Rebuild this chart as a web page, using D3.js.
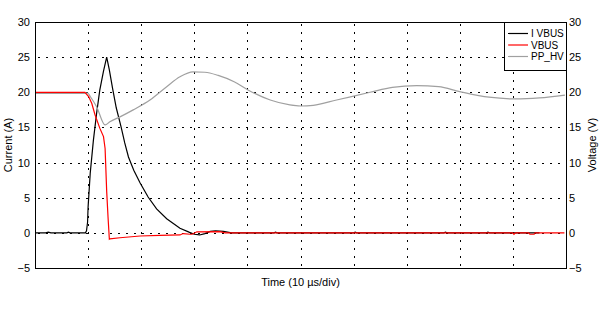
<!DOCTYPE html>
<html lang="en">
<head>
<meta charset="UTF-8">
<title>Current / Voltage</title>
<script src="https://cdn.jsdelivr.net/npm/d3@7"></script>
<style>
  body { margin: 0; padding: 0; background: #fff; overflow: hidden; }
  svg text { font-family: "Liberation Sans", Arial, sans-serif; font-size: 11px; fill: #000; }
  .legend text { font-size: 10px; }
</style>
</head>
<body>
<svg id="chart" width="604" height="320"></svg>
<script>
// time in µs (10 µs/div)
const seriesNames = ["I VBUS", "VBUS", "PP_HV"];
const seriesColors = ["#000000", "#ff0000", "#a0a0a0"];
const yTicks = [-5, 0, 5, 10, 15, 20, 25, 30];

const iVbus = [
  [0, 0], [2, 0], [2.5, 0.1], [3, 0], [6, 0], [6.3, 0.1], [6.6, 0], [9.5, 0],
  [9.7, 0.3], [9.9, 1.5], [10.0, 3.7], [10.4, 8.5], [11.0, 13.2], [11.6, 17],
  [12.2, 20.3], [12.9, 23], [13.5, 25.0], [14.0, 23.2], [14.6, 20.6], [15.3, 17.8],
  [16.2, 15.1], [16.9, 12.8], [17.6, 10.8], [18.6, 8.9], [19.8, 7.1], [21.3, 5.1],
  [22.9, 3.4], [24.8, 2.0], [27.3, 0.65], [29, 0.1], [30, -0.2], [31, -0.3],
  [32, -0.1], [33, 0.2], [34, 0.3], [35.5, 0.2], [37, 0], [45, 0], [45.3, 0.1],
  [45.6, 0], [60, 0], [60.3, 0.1], [60.6, 0], [77, 0], [77.3, 0.1], [77.6, 0],
  [85, 0], [85.3, 0.1], [85.6, 0], [95, 0]
];

const vbus = [
  [0, 20], [9.4, 20], [10.1, 19.4], [10.7, 18.4], [11.3, 16.8], [12.2, 14.9],
  [12.9, 13.7], [13.2, 12.0], [13.3, 10], [13.5, 5.9], [13.75, 2.3], [14.0, -0.9],
  [14.1, -0.85], [16, -0.7], [19.8, -0.45], [23.5, -0.35], [27.3, -0.3], [27.9, -0.1],
  [29.2, -0.2], [29.6, -0.2], [30.5, 0.15], [34.8, 0.17], [35.8, 0], [90, 0],
  [90.2, -0.2], [90.5, 0], [93, 0], [93.2, -0.2], [94, -0.2], [94.2, 0], [99.7, 0]
];

const ppHv = [
  [0, 19.85], [9.2, 19.85], [9.9, 19.9], [10.4, 19.4], [11.6, 17.95], [13.2, 15.35],
  [14.1, 15.8], [16.0, 16.5], [18.5, 17.5], [21.65, 18.9], [24.8, 20.8], [27.3, 22.2],
  [29.75, 22.9], [32, 22.85], [34.5, 22.4], [37.5, 21.5], [40.2, 20.3], [44.3, 18.9],
  [48, 18.2], [50, 18.05], [52.4, 18.15], [56.8, 18.9], [63.1, 20.0], [67.3, 20.7],
  [71.9, 20.95], [76, 20.8], [80, 20.1], [85.5, 19.3], [90.4, 19.05], [95, 19.2],
  [99.8, 19.6]
];

const svg = d3.select("#chart");
const plotLeft = 35, plotRight = 566, plotTop = 22, plotBottom = 268;

const x = d3.scaleLinear().domain([0, 100]).range([plotLeft, plotRight]);
const y = d3.scaleLinear().domain([-5, 30]).range([plotBottom, plotTop]);

// dotted grid
const grid = svg.append("g")
  .attr("stroke", "#000")
  .attr("stroke-dasharray", "2,6")
  .attr("shape-rendering", "crispEdges");

grid.selectAll(".vg")
  .data(d3.range(10, 100, 10))
  .enter().append("line")
  .attr("x1", d => Math.round(x(d)) + 0.5)
  .attr("x2", d => Math.round(x(d)) + 0.5)
  .attr("y1", plotTop + 2)
  .attr("y2", plotBottom);

grid.selectAll(".hg")
  .data(d3.range(0, 30, 5))
  .enter().append("line")
  .attr("x1", plotLeft + 3)
  .attr("x2", plotRight)
  .attr("y1", d => Math.round(y(d)) + 0.5)
  .attr("y2", d => Math.round(y(d)) + 0.5);

// axes (labels only, no tick marks)
const leftAxis = d3.axisLeft(y).tickValues(yTicks).tickSize(0).tickPadding(5);
const rightAxis = d3.axisRight(y).tickValues(yTicks).tickSize(0).tickPadding(3);

svg.append("g")
  .attr("transform", `translate(${plotLeft},0)`)
  .call(leftAxis)
  .call(g => g.select(".domain").remove());

svg.append("g")
  .attr("transform", `translate(${plotRight},0)`)
  .call(rightAxis)
  .call(g => g.select(".domain").remove());

svg.selectAll("g[font-size]").attr("font-size", null).attr("font-family", null);

// traces
const line = d3.line().x(d => x(d[0])).y(d => y(d[1]));
const smooth = d3.line().x(d => x(d[0])).y(d => y(d[1])).curve(d3.curveMonotoneX);

const traces = svg.append("g").attr("fill", "none").attr("stroke-width", 1.2);
traces.append("path").datum(iVbus).attr("stroke", seriesColors[0]).attr("d", line);
traces.append("path").datum(ppHv).attr("stroke", seriesColors[2]).attr("d", smooth);
traces.append("path").datum(vbus).attr("stroke", seriesColors[1]).attr("d", line);

// plot frame
svg.append("rect")
  .attr("x", plotLeft + 0.5).attr("y", plotTop + 0.5)
  .attr("width", plotRight - plotLeft).attr("height", plotBottom - plotTop)
  .attr("fill", "none").attr("stroke", "#000").attr("stroke-width", 1)
  .attr("shape-rendering", "crispEdges");

// legend
const legend = svg.append("g").attr("class", "legend").attr("transform", "translate(504,22)");
legend.append("rect")
  .attr("x", 0.5).attr("y", 0.5).attr("width", 62).attr("height", 48)
  .attr("fill", "#fff").attr("stroke", "#000").attr("shape-rendering", "crispEdges");

const items = legend.selectAll(".item")
  .data(seriesNames)
  .enter().append("g")
  .attr("transform", (d, i) => `translate(0,${11.5 + i * 11.5})`);

items.append("line")
  .attr("x1", 4).attr("x2", 24).attr("y1", 0).attr("y2", 0)
  .attr("stroke", (d, i) => seriesColors[i]).attr("stroke-width", 1.2);

items.append("text")
  .attr("x", 27).attr("dy", "0.35em")
  .text(d => d);

// axis titles
svg.append("text")
  .attr("text-anchor", "middle")
  .attr("transform", `translate(12,${(plotTop + plotBottom) / 2}) rotate(-90)`)
  .text("Current (A)");

svg.append("text")
  .attr("text-anchor", "middle")
  .attr("transform", `translate(596,${(plotTop + plotBottom) / 2}) rotate(-90)`)
  .text("Voltage (V)");

svg.append("text")
  .attr("text-anchor", "middle")
  .attr("x", (plotLeft + plotRight) / 2)
  .attr("y", 286)
  .text("Time (10 µs/div)");
</script>
</body>
</html>
